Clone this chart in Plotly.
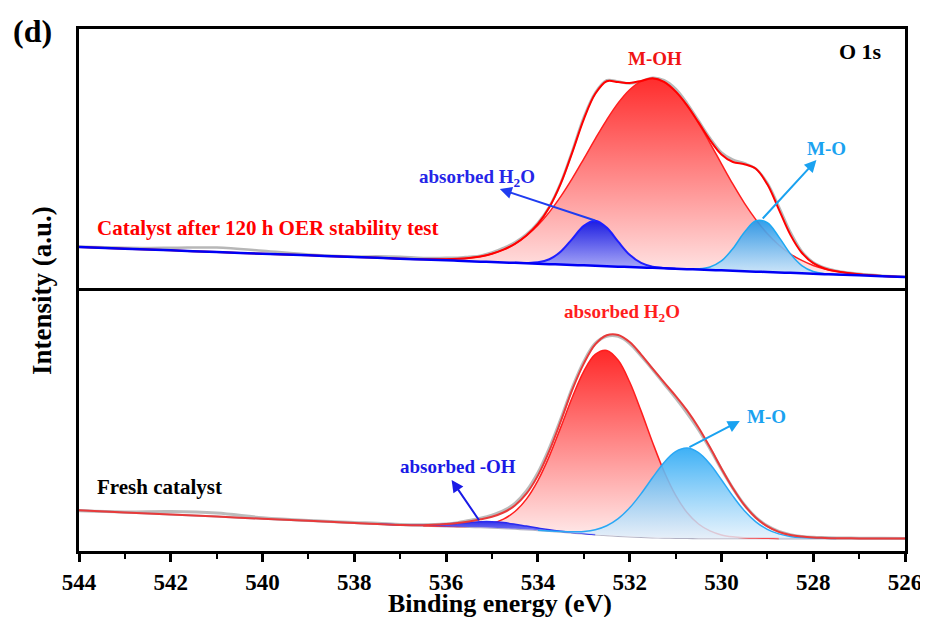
import numpy as np
import plotly.graph_objects as go
from plotly.subplots import make_subplots

# ---------------- data (binding energy in eV, intensity in a.u.) ----------------
energy = [544, 543, 542, 541, 540, 539, 538, 537.5, 537, 536.5, 536,
          535.75, 535.5, 535.25, 535, 534.75, 534.5, 534.25, 534, 533.75, 533.5,
          533.25, 533, 532.75, 532.5, 532.25, 532, 531.75, 531.5, 531.25, 531,
          530.75, 530.5, 530.25, 530, 529.75, 529.5, 529.25, 529, 528.75, 528.5,
          528.25, 528, 527.75, 527.5, 527, 526.5, 526]

# Panel 1: catalyst after 120 h OER stability test
aged_background = [44.0, 42.3, 40.7, 39.0, 37.3, 35.7, 34.0, 33.2, 32.3, 31.5, 30.7,
                   30.3, 29.8, 29.4, 29.0, 28.6, 28.2, 27.8, 27.3, 26.9, 26.5,
                   26.1, 25.7, 25.3, 24.8, 24.4, 24.0, 23.6, 23.2, 22.8, 22.3,
                   21.9, 21.5, 21.1, 20.7, 20.3, 19.8, 19.4, 19.0, 18.6, 18.2,
                   17.8, 17.3, 16.9, 16.5, 15.7, 14.8, 14.0]
aged_raw = [0.5, 1.0, 2.5, 4.5, 3.0, 0.8, 0.5, 1.5, 2.0, 1.5, 2.5,
            3.0, 4.5, 6.0, 9.5, 14.5, 20.5, 29.0, 41.0, 57.5, 82.0,
            114.0, 148.0, 173.0, 186.0, 185.0, 183.5, 186.0, 190.0, 188.0, 180.0,
            166.0, 149.0, 132.0, 118.0, 111.0, 108.0, 103.0, 89.0, 66.0, 41.0,
            22.0, 11.5, 6.5, 3.8, 1.5, 0.6, 0.2]
aged_envelope = [0, 0, 0, 0, 0, 0, 0, 0, 0.1, 0.3, 1.1,
                 1.9, 3.2, 5.2, 8.3, 12.8, 19.0, 27.8, 39.8, 56.9, 81.1,
                 112.6, 146.0, 171.9, 185.0, 184.5, 184.0, 186.5, 189.5, 186.3, 177.3,
                 163.8, 147.1, 129.9, 115.9, 108.7, 107.0, 102.8, 87.7, 63.1, 38.2,
                 20.5, 10.6, 5.7, 3.3, 1.1, 0.3, 0.1]
aged_M_OH = [0, 0, 0, 0, 0, 0, 0, 0, 0.1, 0.3, 1.1,
             1.9, 3.2, 5.2, 8.3, 12.8, 19.0, 27.5, 38.4, 52.0, 68.1,
             86.5, 106.5, 126.9, 146.4, 163.7, 177.3, 186.0, 189.0, 186.0, 177.3,
             163.7, 146.4, 126.9, 106.5, 86.5, 68.1, 52.0, 38.4, 27.5, 19.0,
             12.8, 8.3, 5.2, 3.2, 1.1, 0.3, 0.1]
aged_H2O = [0, 0, 0, 0, 0, 0, 0, 0, 0, 0, 0,
            0, 0, 0, 0, 0, 0, 0.3, 1.4, 4.9, 13.0,
            26.1, 39.5, 45.0, 38.6, 25.0, 12.2, 4.5, 1.2, 0.3, 0,
            0, 0, 0, 0, 0, 0, 0, 0, 0, 0,
            0, 0, 0, 0, 0, 0, 0]
aged_M_O = [0, 0, 0, 0, 0, 0, 0, 0, 0, 0, 0,
            0, 0, 0, 0, 0, 0, 0, 0, 0, 0,
            0, 0, 0, 0, 0, 0, 0, 0, 0, 0,
            0.1, 0.7, 3.0, 9.4, 22.2, 38.9, 50.8, 49.3, 35.6, 19.2,
            7.7, 2.3, 0.5, 0.1, 0, 0, 0]

# Panel 2: fresh catalyst
fresh_background = [40.7, 38.6, 36.5, 34.4, 32.3, 30.2, 28.1, 27.0, 26.0, 25.2, 24.6,
                    24.3, 24.0, 23.7, 23.3, 22.8, 22.2, 21.5, 20.8, 20.0, 19.2,
                    18.3, 17.4, 16.6, 15.8, 15.1, 14.5, 14.0, 13.6, 13.3, 13.1,
                    12.9, 12.8, 12.8, 12.7, 12.7, 12.7, 12.7, 12.7, 12.6, 12.6,
                    12.6, 12.6, 12.6, 12.6, 12.5, 12.5, 12.5]
fresh_raw = [-0.5, 0.5, 3.0, 3.5, 1.0, 0.3, 0.5, 0.8, 0.5, 1.0, 2.5,
             4.0, 6.5, 9.0, 12.5, 17.5, 25.5, 38.5, 57.5, 83.0, 113.0,
             145.0, 172.0, 191.0, 199.0, 199.5, 193.0, 181.0, 168.0, 154.0, 140.0,
             125.0, 108.5, 89.5, 69.0, 50.0, 33.5, 21.0, 12.5, 7.0, 3.8,
             2.0, 1.2, 0.8, 0.5, 0.3, 0.2, 0.1]
fresh_envelope = [0, 0, 0, 0, 0, 0, 0, 0, 0.1, 0.6, 2.4,
                  3.8, 5.6, 8.0, 11.0, 15.7, 23.3, 35.8, 54.6, 80.1, 110.7,
                  143.1, 170.0, 190.0, 200.0, 201.0, 194.5, 182.5, 168.8, 155.3, 142.1,
                  127.7, 110.7, 90.9, 69.9, 50.1, 33.2, 20.6, 11.9, 6.5, 3.4,
                  1.8, 0.9, 0.5, 0.2, 0.1, 0, 0]
fresh_H2O = [0, 0, 0, 0, 0, 0, 0, 0, 0, 0, 0.1,
             0.3, 0.8, 2.0, 4.4, 9.1, 17.3, 30.4, 49.6, 74.9, 104.7,
             135.5, 162.3, 180.0, 184.8, 175.6, 154.5, 125.9, 94.9, 66.2, 42.8,
             25.6, 14.2, 7.3, 3.4, 1.5, 0.6, 0.2, 0.1, 0, 0,
             0, 0, 0, 0, 0, 0, 0]
fresh_M_O = [0, 0, 0, 0, 0, 0, 0, 0, 0, 0, 0,
             0, 0, 0, 0, 0, 0, 0, 0, 0.1, 0.3,
             0.9, 2.2, 4.7, 9.5, 17.3, 28.7, 43.4, 59.9, 75.3, 86.2,
             90.0, 85.6, 74.2, 58.6, 42.2, 27.6, 16.5, 9.0, 4.5, 2.0,
             0.8, 0.3, 0.1, 0, 0, 0, 0]
fresh_OH = [0, 0, 0, 0, 0, 0, 0, 0, 0.1, 0.6, 2.2,
            3.4, 4.6, 5.6, 6.0, 5.6, 4.6, 3.4, 2.2, 1.2, 0.6,
            0.3, 0.1, 0, 0, 0, 0, 0, 0, 0, 0,
            0, 0, 0, 0, 0, 0, 0, 0, 0, 0,
            0, 0, 0, 0, 0, 0, 0]

x_ticks = [544, 542, 540, 538, 536, 534, 532, 530, 528, 526]
x_minor = [543, 541, 539, 537, 535, 533, 531, 529, 527]

# ---------------- figure ----------------
FONT = "Liberation Serif, Times New Roman, serif"
E = np.array(energy, dtype=float)

fig = make_subplots(rows=2, cols=1, shared_xaxes=True, vertical_spacing=0)


def line(row, y, color, width):
    fig.add_trace(go.Scatter(x=E, y=y, mode="lines", hoverinfo="skip",
                             line=dict(color=color, width=width, shape="spline"),
                             showlegend=False), row=row, col=1)


def component(row, bg, comp, color, scale, width=1.5):
    bg = np.array(bg, dtype=float)
    comp = np.array(comp, dtype=float)
    nz = np.nonzero(comp > 0)[0]
    i0, i1 = max(nz[0] - 1, 0), min(nz[-1] + 1, len(E) - 1)
    xs = E[i0:i1 + 1]
    base = bg[i0:i1 + 1]
    top = base + comp[i0:i1 + 1]
    fig.add_trace(go.Scatter(x=xs, y=base, mode="lines", hoverinfo="skip",
                             line=dict(color="rgba(0,0,0,0)", width=0, shape="spline"),
                             showlegend=False), row=row, col=1)
    fig.add_trace(go.Scatter(x=xs, y=top, mode="lines", hoverinfo="skip",
                             line=dict(color=color, width=width, shape="spline"),
                             fill="tonexty",
                             fillgradient=dict(type="vertical", colorscale=scale),
                             showlegend=False), row=row, col=1)


# --- top panel
bgA = np.array(aged_background)
line(1, bgA + np.array(aged_raw), "rgba(175,175,175,0.9)", 2.5)
component(1, aged_background, aged_M_OH, "#FF1E1E",
          [[0, "rgb(255,232,232)"], [1, "rgb(255,45,45)"]])
component(1, aged_background, aged_H2O, "#1F1FFF",
          [[0, "rgb(170,170,248)"], [1, "rgb(30,30,225)"]], 2)
component(1, aged_background, aged_M_O, "#1EA8F2",
          [[0, "rgba(205,232,252,0.9)"], [1, "rgba(35,150,232,0.92)"]])
line(1, bgA + np.array(aged_envelope), "#FF0000", 2)
line(1, bgA, "#0000F5", 2.5)

# --- bottom panel
bgF = np.array(fresh_background)
line(2, bgF + np.array(fresh_raw), "rgba(180,180,180,0.9)", 3)
line(2, bgF, "rgba(170,170,190,0.9)", 2)
component(2, fresh_background, fresh_H2O, "#FF1E1E",
          [[0, "rgb(255,236,236)"], [1, "rgb(255,40,40)"]])
component(2, fresh_background, fresh_OH, "#2A2AF0",
          [[0, "rgb(150,150,245)"], [1, "rgb(50,50,235)"]])
component(2, fresh_background, fresh_M_O, "#2AA8F5",
          [[0, "rgba(225,240,252,0.82)"], [1, "rgba(45,170,245,0.92)"]])
line(2, bgF + np.array(fresh_envelope), "#E83A3A", 2)

# ---------------- axes ----------------
axis_common = dict(range=[544, 526], showline=True, linecolor="black",
                   linewidth=3, showgrid=False, zeroline=False, automargin=False)
fig.update_xaxes(**axis_common)
fig.update_xaxes(ticks="", showticklabels=False, side="top", mirror=False, row=1, col=1)
fig.update_xaxes(ticks="outside", mirror=True, tickvals=x_ticks, ticklen=8, tickwidth=2.5,
                 tickcolor="black",
                 tickfont=dict(family=FONT, size=23, color="black", weight="bold"),
                 minor=dict(ticks="outside", tickvals=x_minor, ticklen=5, tickwidth=2,
                            tickcolor="black"),
                 row=2, col=1)
y_common = dict(showline=True, mirror=True, linecolor="black", linewidth=3,
                showgrid=False, zeroline=False, ticks="", showticklabels=False,
                automargin=False)
fig.update_yaxes(**y_common)
fig.update_layout(yaxis=dict(domain=[0.498, 1], range=[0, 262]),
                  yaxis2=dict(domain=[0, 0.498], range=[0, 260]))

# the page body adds an 8 px offset, so the figure is 8 px smaller on each side
fig.update_layout(width=920, height=609, margin=dict(l=71, r=23, t=21, b=66),
                  paper_bgcolor="white", plot_bgcolor="white", showlegend=False)

# ---------------- texts ----------------
def txt(x, y, text, color, size, row, xanchor="center"):
    fig.add_annotation(x=x, y=y, xref="x" if row == 1 else "x2", yref="y" if row == 1 else "y2",
                       text="<b>" + text + "</b>", showarrow=False, xanchor=xanchor,
                       yanchor="middle", font=dict(family=FONT, size=size, color=color))


def arrow(x_head, y_head, x_tail, y_tail, color, row):
    xr = "x" if row == 1 else "x2"
    yr = "y" if row == 1 else "y2"
    fig.add_annotation(x=x_head, y=y_head, xref=xr, yref=yr, ax=x_tail, ay=y_tail,
                       axref=xr, ayref=yr, text="", showarrow=True, arrowhead=2,
                       arrowsize=1.2, arrowwidth=2, arrowcolor=color)


txt(543.65, 63, "Catalyst after 120 h OER stability test", "#FF0000", 21, 1, "left")
txt(531.44, 232.5, "M-OH", "#F01414", 19, 1)
txt(535.32, 113, "absorbed H<sub>2</sub>O", "#2525E8", 19, 1)
txt(527.70, 143, "M-O", "#1AA2F0", 19, 1)
txt(526.98, 239.5, "O 1s", "black", 22, 1)
arrow(534.83, 102, 532.72, 70, "#1F3CF0", 1)
arrow(527.93, 131, 529.13, 71, "#1AA2F0", 1)

txt(543.65, 64, "Fresh catalyst", "black", 21, 2, "left")
txt(532.17, 238, "absorbed H<sub>2</sub>O", "#FF1E1E", 19, 2)
txt(529.02, 135, "M-O", "#1AA2F0", 19, 2)
txt(535.75, 84.5, "absorbed -OH", "#1A1AE6", 19, 2)
arrow(529.60, 130, 530.73, 103, "#1AA2F0", 2)
arrow(535.88, 71, 535.26, 29.3, "#1A1AE6", 2)

fig.add_annotation(x=-0.0448, y=0.5, xref="paper", yref="paper", text="<b>Intensity (a.u.)</b>",
                   textangle=-90, showarrow=False, xanchor="center", yanchor="middle",
                   font=dict(family=FONT, size=27, color="black"))
fig.add_annotation(x=0.51, y=-0.1015, xref="paper", yref="paper", text="<b>Binding energy (eV)</b>",
                   showarrow=False, xanchor="center", yanchor="middle",
                   font=dict(family=FONT, size=26, color="black"))
fig.add_annotation(x=-0.0563, y=0.996, xref="paper", yref="paper", text="<b>(d)</b>",
                   showarrow=False, xanchor="center", yanchor="middle",
                   font=dict(family=FONT, size=32, color="black"))

fig.write_html("out.html")
